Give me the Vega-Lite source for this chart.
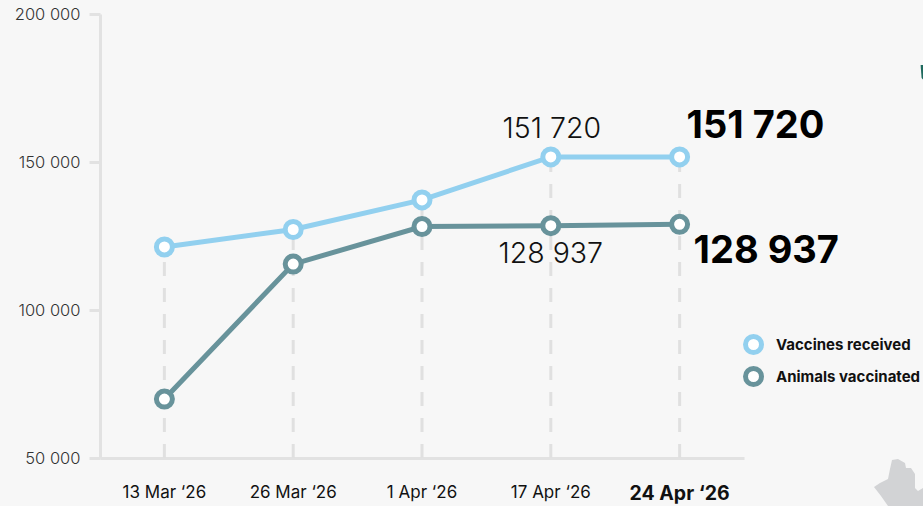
{
"$schema":"https://vega.github.io/schema/vega-lite/v6.json",
"width":644,"height":444,
"autosize":{"type":"none"},
"padding":{"left":100,"top":14,"right":179,"bottom":48},
"background":"#f7f7f7",
"config":{"view":{"stroke":null},"font":"Inter"},
"data":{"values":[
{"date":"13 Mar ‘26","series":"Vaccines received","value":121300},
{"date":"26 Mar ‘26","series":"Vaccines received","value":127200},
{"date":"1 Apr ‘26","series":"Vaccines received","value":137200},
{"date":"17 Apr ‘26","series":"Vaccines received","value":151720},
{"date":"24 Apr ‘26","series":"Vaccines received","value":151720},
{"date":"13 Mar ‘26","series":"Animals vaccinated","value":69900},
{"date":"26 Mar ‘26","series":"Animals vaccinated","value":115500},
{"date":"1 Apr ‘26","series":"Animals vaccinated","value":128200},
{"date":"17 Apr ‘26","series":"Animals vaccinated","value":128500},
{"date":"24 Apr ‘26","series":"Animals vaccinated","value":128937}
]},
"encoding":{
"x":{"field":"date","type":"nominal","scale":{"type":"band","domain":["13 Mar ‘26","26 Mar ‘26","1 Apr ‘26","17 Apr ‘26","24 Apr ‘26"],"paddingInner":0,"paddingOuter":0},
"axis":{"title":null,"labelAngle":0,"domainColor":"#e2e2e2","domainWidth":3,"ticks":false,"labelPadding":26,"labelFont":"Inter","labelColor":"#111111","labelFontSize":{"expr":"datum.label=='24 Apr ‘26'?19.5:17"},"labelFontWeight":{"expr":"datum.label=='24 Apr ‘26'?700:400"},"grid":false}},
"y":{"field":"value","type":"quantitative","scale":{"domain":[50000,200000],"nice":false,"zero":false},
"axis":{"title":null,"values":[50000,100000,150000,200000],"labelExpr":"replace(format(datum.value,','),',',' ')","domainColor":"#e2e2e2","domainWidth":3,"tickColor":"#e2e2e2","tickWidth":3,"tickSize":11,"labelPadding":9,"labelFont":"Inter","labelFontSize":16.5,"labelFontWeight":300,"labelColor":"#333333","grid":false}}
},
"layer":[
{"data":{"values":[{"date":"24 Apr ‘26","value":50000,"part":"map"}]},
 "mark":{"type":"point","filled":true,"clip":false,"size":4,"opacity":1,"color":"#d2d3d5","shape":"M194.4,29L200.4,25L208.4,21L210.4,11L212.4,2L218.4,1L225.4,5L226.4,10L231.4,10L235.4,16L235.4,30L238.4,33L243.4,30L243.4,48L208.4,48L201.4,38Z"}},
{"data":{"values":[{"date":"24 Apr ‘26","value":50000,"part":"map"}]},
 "mark":{"type":"point","filled":true,"clip":false,"size":4,"opacity":1,"color":"#1f6a5e","shape":"M241,-393L244,-393L244,-378L242,-380Z"}},
{"transform":[{"filter":"datum.series=='Vaccines received'"}],
 "mark":{"type":"rule","stroke":"#e0e0e0","strokeWidth":3,"strokeDash":[14,12]},
 "encoding":{"y":{"datum":50000},"y2":{"field":"value"}}},
{"mark":{"type":"line","strokeWidth":5},
 "encoding":{"stroke":{"field":"series","type":"nominal","sort":null,
 "scale":{"domain":["Vaccines received","Animals vaccinated"],"range":["#92d0ef","#68939b"]},
 "legend":{"title":null,"orient":"none","legendX":643,"legendY":320,"symbolType":"circle","symbolSize":256,"symbolStrokeWidth":5,"symbolFillColor":"#ffffff","labelFont":"Inter","labelFontSize":15,"labelFontWeight":700,"labelColor":"#111111","labelOffset":12,"rowPadding":-5,"labelLimit":200}}}},
{"mark":{"type":"point","filled":false,"fill":"#ffffff","fillOpacity":1,"opacity":1,"size":256,"strokeWidth":5},
 "encoding":{"stroke":{"field":"series","type":"nominal","sort":null,"legend":null}}},
{"transform":[{"filter":"datum.date=='17 Apr ‘26'&&datum.series=='Vaccines received'"},{"calculate":"replace(format(datum.value,','),',',' ')","as":"lab"}],
 "mark":{"type":"text","font":"Inter","fontWeight":300,"fontSize":28.5,"color":"#111111","dx":1,"dy":-28},
 "encoding":{"text":{"field":"lab"}}},
{"transform":[{"filter":"datum.date=='17 Apr ‘26'&&datum.series=='Animals vaccinated'"}],
 "mark":{"type":"text","font":"Inter","fontWeight":300,"fontSize":28.5,"color":"#111111","dy":28},
 "encoding":{"text":{"datum":"128 937"}}},
{"transform":[{"filter":"datum.date=='24 Apr ‘26'&&datum.series=='Vaccines received'"},{"calculate":"replace(format(datum.value,','),',',' ')","as":"lab"}],
 "mark":{"type":"text","font":"Inter","fontWeight":700,"fontSize":38,"color":"#000000","align":"left","dx":7,"dy":-30},
 "encoding":{"text":{"field":"lab"}}},
{"transform":[{"filter":"datum.date=='24 Apr ‘26'&&datum.series=='Animals vaccinated'"},{"calculate":"replace(format(datum.value,','),',',' ')","as":"lab"}],
 "mark":{"type":"text","font":"Inter","fontWeight":700,"fontSize":38,"color":"#000000","align":"left","dx":14,"dy":28},
 "encoding":{"text":{"field":"lab"}}}
]
}
